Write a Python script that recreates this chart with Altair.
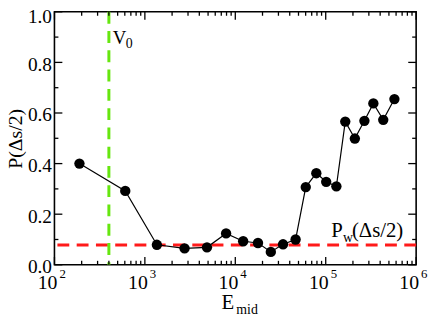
import altair as alt
import pandas as pd

# ---- data ----
e_mid = [189, 607, 1358, 2748, 4862, 7910, 12220, 17820, 24720, 33730, 46430,
         60150, 78700, 101200, 131200, 164500, 210000, 267800, 336300, 432600, 575000]
p_half = [0.400, 0.292, 0.079, 0.065, 0.069, 0.124, 0.093, 0.086, 0.051, 0.081, 0.100,
          0.307, 0.362, 0.328, 0.310, 0.566, 0.499, 0.569, 0.638, 0.573, 0.655]
v0_value = 400
pw_value = 0.078

x_major = [1e2, 1e3, 1e4, 1e5, 1e6]
x_base_labels = ["10", "10", "10", "10", "10"]
x_exp_labels = ["2", "3", "4", "5", "6"]
x_minor = [m * 10 ** k for k in range(2, 6) for m in range(2, 10)]
y_major = [0.0, 0.2, 0.4, 0.6, 0.8, 1.0]
y_minor = [0.1, 0.3, 0.5, 0.7, 0.9]

W, H = 366, 256
FONT = "Liberation Serif"

df = pd.DataFrame({"x": e_mid, "y": p_half})
df_xmaj = pd.DataFrame({"x": x_major, "base": x_base_labels, "exp": x_exp_labels})
df_xmin = pd.DataFrame({"x": x_minor})
df_ymaj = pd.DataFrame({"y": y_major})
df_ymin = pd.DataFrame({"y": y_minor})
df_v0 = pd.DataFrame({"x": [v0_value]})
df_pw = pd.DataFrame({"y": [pw_value]})

xs = alt.Scale(type="log", domain=[1e2, 1e6])
ys = alt.Scale(domain=[0, 1])

y_axis = alt.Axis(values=y_major, format=".1f", ticks=False, domain=False, grid=False,
                  labelFont=FONT, labelFontSize=19.5, labelColor="black", labelPadding=3,
                  labelOffset=alt.ExprRef("datum.value == 1 ? 5 : 2"),
                  title="P(Δs/2)", titleFont=FONT, titleFontSize=20,
                  titleFontWeight="normal", titleColor="black", titlePadding=2)

def X(f="x"):
    return alt.X(f + ":Q", scale=xs, axis=None)

def Y(f="y"):
    return alt.Y(f + ":Q", scale=ys, axis=y_axis)

red = alt.Chart(df_pw).mark_rule(color="#ff1a1a", strokeWidth=3, strokeDash=[12, 7.5]).encode(y=Y())
green = alt.Chart(df_v0).mark_rule(color="#66e60f", strokeWidth=3, strokeDash=[12, 7.5]).encode(x=X())

line = alt.Chart(df).mark_line(color="black", strokeWidth=1.2).encode(x=X(), y=Y())
points = alt.Chart(df).mark_circle(size=110, color="black", opacity=1).encode(x=X(), y=Y())

tick_style = dict(color="black", strokeWidth=1.3)
xb_maj = alt.Chart(df_xmaj).mark_rule(**tick_style).encode(x=X(), y=alt.value(H), y2=alt.value(H - 8))
xt_maj = alt.Chart(df_xmaj).mark_rule(**tick_style).encode(x=X(), y=alt.value(0), y2=alt.value(8))
xb_min = alt.Chart(df_xmin).mark_rule(**tick_style).encode(x=X(), y=alt.value(H), y2=alt.value(H - 4))
xt_min = alt.Chart(df_xmin).mark_rule(**tick_style).encode(x=X(), y=alt.value(0), y2=alt.value(4))
yl_maj = alt.Chart(df_ymaj).mark_rule(**tick_style).encode(y=Y(), x=alt.value(0), x2=alt.value(8))
yr_maj = alt.Chart(df_ymaj).mark_rule(**tick_style).encode(y=Y(), x=alt.value(W), x2=alt.value(W - 8))
yl_min = alt.Chart(df_ymin).mark_rule(**tick_style).encode(y=Y(), x=alt.value(0), x2=alt.value(4))
yr_min = alt.Chart(df_ymin).mark_rule(**tick_style).encode(y=Y(), x=alt.value(W), x2=alt.value(W - 4))

xlab_base = alt.Chart(df_xmaj).mark_text(font=FONT, fontSize=20, align="right", baseline="alphabetic",
                                         dx=3, color="black").encode(x=X(), y=alt.value(H + 24), text="base:N")
xlab_exp = alt.Chart(df_xmaj).mark_text(font=FONT, fontSize=13, align="left", baseline="alphabetic",
                                        dx=5, color="black").encode(x=X(), y=alt.value(H + 13), text="exp:N")

# x-axis title E_mid
xt_E = alt.Chart(df_v0).mark_text(font=FONT, fontSize=21, align="left", baseline="alphabetic",
                                  color="black").encode(x=alt.value(169), y=alt.value(H + 45), text=alt.value("E"))
xt_mid = alt.Chart(df_v0).mark_text(font=FONT, fontSize=14, align="left", baseline="alphabetic",
                                    color="black").encode(x=alt.value(184), y=alt.value(H + 50), text=alt.value("mid"))

# annotations
ann = pd.DataFrame({"x": [v0_value], "y": [0.871]})
v_text = alt.Chart(ann).mark_text(font=FONT, fontSize=19, align="left", baseline="alphabetic", dx=4,
                                  color="black").encode(x=X(), y=Y(), text=alt.value("V"))
v_sub = alt.Chart(ann).mark_text(font=FONT, fontSize=14, align="left", baseline="alphabetic", dx=17, dy=4,
                                 color="black").encode(x=X(), y=Y(), text=alt.value("0"))

ann2 = pd.DataFrame({"x": [114800], "y": [0.108]})
pw_P = alt.Chart(ann2).mark_text(font=FONT, fontSize=21, align="left", baseline="alphabetic",
                                 color="black").encode(x=X(), y=Y(), text=alt.value("P"))
pw_w = alt.Chart(ann2).mark_text(font=FONT, fontSize=14, align="left", baseline="alphabetic", dx=12, dy=5,
                                 color="black").encode(x=X(), y=Y(), text=alt.value("w"))
pw_rest = alt.Chart(ann2).mark_text(font=FONT, fontSize=21, align="left", baseline="alphabetic", dx=21,
                                    color="black").encode(x=X(), y=Y(), text=alt.value("(Δs/2)"))

chart = alt.layer(
    red, green, line, points,
    xb_maj, xt_maj, xb_min, xt_min, yl_maj, yr_maj, yl_min, yr_min,
    xlab_base, xlab_exp, xt_E, xt_mid, v_text, v_sub, pw_P, pw_w, pw_rest,
).properties(
    width=W, height=H,
    autosize=alt.AutoSizeParams(type="none"),
    padding={"left": 47, "top": 2, "right": 12, "bottom": 52},
).configure_view(stroke="black", strokeWidth=1.6)

chart.save("out.html", embed_options={"renderer": "svg", "actions": False})
